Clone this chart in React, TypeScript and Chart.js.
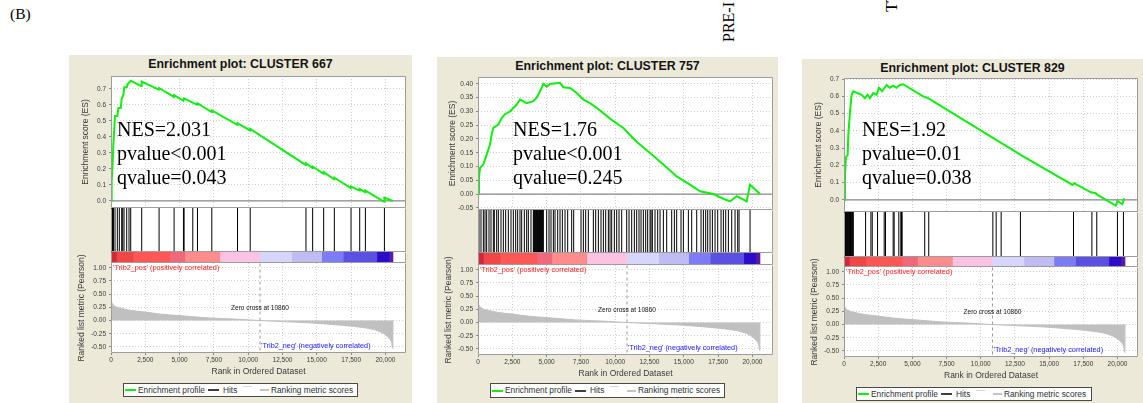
import React, { useEffect, useRef } from 'react';
import { Chart, registerables } from 'chart.js';

Chart.register(...registerables);

// ---------------- data ----------------
const X_MAX = 21500;
const X_TICKS = [0, 2500, 5000, 7500, 10000, 12500, 15000, 17500, 20000];
const X_TICK_LABELS = ['0', '2,500', '5,000', '7,500', '10,000', '12,500', '15,000', '17,500', '20,000'];

const METRIC_TICKS = [-0.5, -0.25, 0, 0.25, 0.5, 0.75, 1];
const METRIC_TICK_LABELS = ['-0.50', '-0.25', '0.00', '0.25', '0.50', '0.75', '1.00'];

const ES_TICKS_TENTHS = [0, 0.1, 0.2, 0.3, 0.4, 0.5, 0.6, 0.7];
const ES_TICK_LABELS_TENTHS = ['0.0', '0.1', '0.2', '0.3', '0.4', '0.5', '0.6', '0.7'];
const ES_TICKS_757 = [-0.05, 0, 0.05, 0.1, 0.15, 0.2, 0.25, 0.3, 0.35, 0.4];
const ES_TICK_LABELS_757 = ['-0.05', '0.00', '0.05', '0.10', '0.15', '0.20', '0.25', '0.30', '0.35', '0.40'];

const ZERO_CROSS = 10860;
const METRIC_RANKS = [0, 30, 100, 290, 780, 1510, 2480, 3700, 5160, 7100, 9050, 10860, 12940, 14890, 16840, 18300, 19270, 19880, 20240, 20440, 20540, 20550];
const METRIC_VALUES = [0.41, 0.36, 0.32, 0.27, 0.23, 0.19, 0.16, 0.12, 0.09, 0.05, 0.027, 0, -0.025, -0.05, -0.09, -0.13, -0.18, -0.25, -0.33, -0.41, -0.53, 0];

const COLOR_EDGES = [0, 390, 1600, 4280, 5380, 7930, 10850, 13160, 15350, 16930, 19370, 20250, 20550];
const COLOR_FILLS = ['#d4283a', '#f04646', '#ff5656', '#f0687c', '#ff8c8c', '#fcc2e2', '#d6d6fa', '#bfbcf4', '#7c7cf6', '#5a50e2', '#2c0cc8', '#5a1aa8'];

const TITLE_667 = 'Enrichment plot: CLUSTER 667';
const TITLE_757 = 'Enrichment plot: CLUSTER 757';
const TITLE_829 = 'Enrichment plot: CLUSTER 829';

const STATS_667 = ['NES=2.031', 'pvalue<0.001', 'qvalue=0.043'];
const STATS_757 = ['NES=1.76', 'pvalue<0.001', 'qvalue=0.245'];
const STATS_829 = ['NES=1.92', 'pvalue=0.01', 'qvalue=0.038'];

const ES_RANKS_667 = [0, 49, 122, 170, 292, 462, 540, 710, 779, 900, 970, 1144, 1220, 1436, 2200, 2238, 3480, 3504, 4580, 4599, 5280, 5328, 6280, 6302, 7330, 7348, 9200, 9221, 10130, 10146, 14190, 14209, 14680, 14696, 15480, 15499, 16260, 16277, 17480, 17494, 18110, 18126, 18520, 18540, 19910, 19927, 20550];
const ES_VALUES_667 = [0, 0.12, 0.24, 0.35, 0.53, 0.53, 0.58, 0.58, 0.64, 0.66, 0.71, 0.71, 0.73, 0.75, 0.717, 0.745, 0.695, 0.705, 0.65, 0.66, 0.625, 0.64, 0.6, 0.61, 0.555, 0.565, 0.475, 0.485, 0.44, 0.45, 0.225, 0.235, 0.205, 0.215, 0.17, 0.18, 0.135, 0.145, 0.08, 0.09, 0.065, 0.075, 0.055, 0.065, -0.005, 0.02, 0];
const HITS_667 = [0, 25, 49, 75, 100, 122, 150, 170, 292, 462, 608, 779, 852, 949, 1144, 1314, 1436, 2238, 3504, 4599, 5280, 5328, 5961, 6302, 7348, 9221, 10146, 14209, 14696, 15499, 16277, 17494, 18126, 18540, 19927];

const ES_RANKS_757 = [0, 71, 145, 389, 632, 874, 996, 1118, 1482, 1725, 1968, 2332, 2819, 3061, 3547, 4033, 4276, 4520, 4762, 5005, 5248, 5977, 6220, 6706, 7192, 7677, 8164, 8649, 9622, 10593, 11565, 12537, 13509, 14480, 15452, 16181, 17153, 17882, 18368, 18853, 19218, 19582, 19826, 20554];
const ES_VALUES_757 = [0, 0.058, 0.095, 0.107, 0.143, 0.18, 0.216, 0.24, 0.252, 0.276, 0.29, 0.3, 0.325, 0.343, 0.33, 0.337, 0.35, 0.373, 0.4, 0.39, 0.4, 0.404, 0.388, 0.385, 0.367, 0.343, 0.33, 0.313, 0.274, 0.24, 0.19, 0.149, 0.107, 0.064, 0.034, 0.01, 0, -0.017, -0.027, -0.008, -0.017, -0.027, 0.034, 0];
const HITS_757 = [73, 218, 389, 510, 631, 802, 947, 1118, 1190, 1361, 1482, 1676, 1846, 2016, 2211, 2406, 2575, 2746, 2891, 3061, 3183, 3377, 3547, 3669, 3863,
  4033, 4070, 4100, 4135, 4170, 4210, 4245, 4280, 4320, 4355, 4390, 4430, 4465, 4500, 4540, 4575, 4610, 4650, 4685, 4720, 4762,
  5005, 5176, 5321, 5492, 5613, 5808, 5977, 6147, 6342, 6536, 6827, 6974, 7508, 7678, 7848, 8043, 8407, 8577, 8772, 8965, 9136, 9306, 9500, 9622, 9744, 9938, 10108, 10278, 10473,
  10837, 11007, 11201, 11395, 11566, 11735, 11882, 12051, 12222, 12367, 12538, 12611, 12708, 12902, 13096, 13267, 13510, 13752, 14117, 14312, 14481, 14797, 14968, 15332, 15576,
  15940, 16255, 16426, 16595, 16742, 16911, 17082, 17276, 17470, 17714, 17883, 18054, 18248, 18491, 18734, 18928, 19026, 19828];

const ES_RANKS_829 = [0, 73, 145, 267, 316, 437, 559, 680, 1287, 1530, 1725, 1895, 2138, 2381, 2551, 2794, 3110, 3352, 3595, 3838, 4081, 4324, 5783, 6026, 6148, 12950, 16716, 16837, 18052, 18416, 18538, 19874, 19996, 20360, 20481];
const ES_VALUES_829 = [0, 0.145, 0.25, 0.26, 0.377, 0.51, 0.61, 0.63, 0.61, 0.59, 0.61, 0.59, 0.62, 0.61, 0.65, 0.63, 0.667, 0.65, 0.663, 0.65, 0.667, 0.671, 0.6, 0.594, 0.59, 0.26, 0.087, 0.097, 0.044, 0.039, 0.029, -0.033, -0.006, -0.025, 0.01];
const HITS_829 = [0, 40, 73, 112, 145, 193, 234, 267, 316, 356, 397, 437, 478, 519, 559, 600, 641, 680, 1579, 1968, 2065, 2453, 2940, 3037, 3595, 3669, 4009, 4155, 4203, 4252, 5904, 6197, 10885, 11128, 11492, 12901, 16783, 18128, 18485, 19996, 20434];

const LEGEND_LABELS = ['Enrichment profile', 'Hits', 'Ranking metric scores'];
const POS_LABEL = "'Trib2_pos' (positively correlated)";
const NEG_LABEL = "'Trib2_neg' (negatively correlated)";
const ZERO_LABEL = 'Zero cross at 10860';
const ES_AXIS_TITLE = 'Enrichment score (ES)';
const METRIC_AXIS_TITLE = 'Ranked list metric (Pearson)';
const X_AXIS_TITLE = 'Rank in Ordered Dataset';

// ---------------- styling ----------------
const FONT = '"Liberation Sans", Arial, Helvetica, sans-serif';
const SERIF = '"Liberation Serif", "Times New Roman", serif';
const AXIS_W = 42;
const GRID = '#d0d0d0';
const TICK_TEXT = '#3a3a3a';
const BEIGE = '#ece9d8';
const GREEN = '#10ee10';

const framePlugin = {
  id: 'frame',
  beforeDraw(chart: any) {
    const { ctx, chartArea: a } = chart;
    ctx.save();
    ctx.fillStyle = '#ffffff';
    ctx.fillRect(a.left, a.top, a.right - a.left, a.bottom - a.top);
    ctx.restore();
  },
  afterDraw(chart: any, _a: any, opts: any) {
    const { ctx, chartArea: a } = chart;
    const sides: string = (opts && opts.sides) || 'trbl';
    const l = Math.round(a.left) + 0.5;
    const r = Math.round(a.right) - 0.5;
    const t = Math.round(a.top) + 0.5;
    const b = Math.round(a.bottom) - 0.5;
    ctx.save();
    ctx.strokeStyle = (opts && opts.color) || '#999';
    ctx.lineWidth = 1;
    ctx.setLineDash([]);
    ctx.beginPath();
    if (sides.includes('t')) { ctx.moveTo(l, t); ctx.lineTo(r, t); }
    if (sides.includes('r')) { ctx.moveTo(r, t); ctx.lineTo(r, b); }
    if (sides.includes('b')) { ctx.moveTo(l, b); ctx.lineTo(r, b); }
    if (sides.includes('l')) { ctx.moveTo(l, t); ctx.lineTo(l, b); }
    ctx.stroke();
    ctx.restore();
  },
};

const metricLabelsPlugin = {
  id: 'metricLabels',
  afterDatasetsDraw(chart: any) {
    const { ctx, chartArea, scales } = chart;
    const x = scales.x;
    const y = scales.y;
    ctx.save();
    ctx.textBaseline = 'middle';
    ctx.font = '7.3px ' + FONT;
    ctx.fillStyle = '#ff2020';
    ctx.textAlign = 'left';
    ctx.fillText(POS_LABEL, chartArea.left + 2, y.getPixelForValue(1.0));
    ctx.fillStyle = '#2020ff';
    ctx.fillText(NEG_LABEL, x.getPixelForValue(ZERO_CROSS) + 1, y.getPixelForValue(-0.49));
    ctx.font = '6.5px ' + FONT;
    ctx.fillStyle = '#111111';
    ctx.textAlign = 'center';
    ctx.fillText(ZERO_LABEL, x.getPixelForValue(ZERO_CROSS), y.getPixelForValue(0.23));
    ctx.restore();
  },
};

function fixedTicks(values: number[]) {
  return (s: any) => { s.ticks = values.map((v) => ({ value: v })); };
}
function fixWidth(w: number) {
  return (s: any) => { s.width = w; s.paddingTop = 0; s.paddingBottom = 0; s.paddingLeft = 0; s.paddingRight = 0; };
}
function fixHeight(h: number) {
  return (s: any) => { s.height = h; s.paddingTop = 0; s.paddingBottom = 0; s.paddingLeft = 0; s.paddingRight = 0; };
}

const baseOptions = {
  animation: false,
  responsive: false,
  maintainAspectRatio: false,
  events: [],
  devicePixelRatio: 1,
};

const ES_PAD = 6;

function esConfig(p: any) {
  const pts = p.esRanks.map((r: number, i: number) => ({ x: r, y: p.esValues[i] }));
  return {
    type: 'line',
    data: {
      datasets: [
        { data: pts, borderColor: GREEN, borderWidth: 2, pointRadius: 0, tension: 0, fill: false },
        { data: [{ x: 0, y: 0 }, { x: X_MAX, y: 0 }], borderColor: '#8a8a8a', borderWidth: 1.2, pointRadius: 0, fill: false },
      ],
    },
    options: {
      ...baseOptions,
      layout: { padding: { right: 1, top: ES_PAD, bottom: ES_PAD, left: 0 }, autoPadding: false },
      plugins: { legend: { display: false }, tooltip: { enabled: false }, frame: { color: '#9c9c9c', sides: 'trbl' } },
      scales: {
        x: {
          type: 'linear', min: 0, max: X_MAX,
          afterBuildTicks: fixedTicks(X_TICKS),
          afterFit: fixHeight(0),
          ticks: { display: false },
          grid: { color: GRID, drawTicks: false },
          border: { display: false, dash: [1, 2] },
        },
        y: {
          type: 'linear', min: p.esMin, max: p.esMax,
          afterBuildTicks: fixedTicks(p.esTicks),
          afterFit: fixWidth(AXIS_W),
          ticks: { font: { family: FONT, size: 6.5 }, color: TICK_TEXT, padding: 3, callback: (_v: any, i: number) => p.esTickLabels[i] },
          grid: { color: GRID, tickColor: '#888888', tickLength: 2 },
          border: { display: false, dash: [1, 2] },
          title: { display: true, text: ES_AXIS_TITLE, font: { family: FONT, size: 8.5 }, color: TICK_TEXT, padding: { top: 12, bottom: 0 } },
        },
      },
    },
    plugins: [framePlugin],
  };
}

function hitsConfig(p: any) {
  const pts: any[] = [];
  p.hits.forEach((r: number) => {
    pts.push({ x: r, y: 0 });
    pts.push({ x: r, y: 1 });
    pts.push({ x: r, y: null });
  });
  return {
    type: 'line',
    data: { datasets: [{ data: pts, borderColor: '#000000', borderWidth: 1, pointRadius: 0, spanGaps: false, fill: false }] },
    options: {
      ...baseOptions,
      layout: { padding: { right: 1, top: 0, bottom: 0, left: 0 }, autoPadding: false },
      plugins: { legend: { display: false }, tooltip: { enabled: false }, frame: { color: '#9c9c9c', sides: 'rbl' } },
      scales: {
        x: { type: 'linear', min: 0, max: X_MAX, display: false },
        y: { type: 'linear', min: 0, max: 1, display: false },
      },
    },
    plugins: [framePlugin],
  };
}

function colorBarConfig() {
  return {
    type: 'bar',
    data: {
      labels: ['rank'],
      datasets: COLOR_FILLS.map((c, i) => ({
        data: [[COLOR_EDGES[i], COLOR_EDGES[i + 1]]],
        backgroundColor: c,
        borderWidth: 0,
        barPercentage: 1,
        categoryPercentage: 1,
        grouped: false,
      })),
    },
    options: {
      ...baseOptions,
      indexAxis: 'y',
      layout: { padding: { right: 1, top: 0, bottom: 0, left: 0 }, autoPadding: false },
      plugins: { legend: { display: false }, tooltip: { enabled: false }, frame: { color: '#9c9c9c', sides: 'rbl' } },
      scales: {
        x: { type: 'linear', min: 0, max: X_MAX, display: false },
        y: { type: 'category', display: false },
      },
    },
    plugins: [framePlugin],
  };
}

const METRIC_PAD_TOP = 20;
const X_AXIS_H = 24;

function metricConfig() {
  const pts = METRIC_RANKS.map((r, i) => ({ x: r, y: METRIC_VALUES[i] }));
  return {
    type: 'line',
    data: {
      datasets: [
        { data: [{ x: ZERO_CROSS, y: -5 }, { x: ZERO_CROSS, y: 5 }], borderColor: '#9a9a9a', borderDash: [3, 3], borderWidth: 1, pointRadius: 0, fill: false },
        { data: pts, borderColor: '#c0c0c0', backgroundColor: '#c0c0c0', borderWidth: 1, pointRadius: 0, fill: 'origin', cubicInterpolationMode: 'monotone' },
      ],
    },
    options: {
      ...baseOptions,
      layout: { padding: { right: 1, top: METRIC_PAD_TOP, bottom: 0, left: 0 }, autoPadding: false },
      plugins: { legend: { display: false }, tooltip: { enabled: false }, frame: { color: '#9c9c9c', sides: 'rbl' } },
      scales: {
        x: {
          type: 'linear', min: 0, max: X_MAX,
          afterBuildTicks: fixedTicks(X_TICKS),
          afterFit: fixHeight(X_AXIS_H),
          ticks: { font: { family: FONT, size: 6.5 }, color: TICK_TEXT, padding: 1, maxRotation: 0, autoSkip: false, callback: (_v: any, i: number) => X_TICK_LABELS[i] },
          grid: { color: GRID, tickColor: '#888888', tickLength: 2 },
          border: { display: false, dash: [1, 2] },
          title: { display: true, text: X_AXIS_TITLE, font: { family: FONT, size: 8.5 }, color: TICK_TEXT, padding: { top: 0, bottom: 0 } },
        },
        y: {
          type: 'linear', min: -0.615, max: 1.09,
          afterBuildTicks: fixedTicks(METRIC_TICKS),
          afterFit: fixWidth(AXIS_W),
          ticks: { font: { family: FONT, size: 6.5 }, color: TICK_TEXT, padding: 3, callback: (_v: any, i: number) => METRIC_TICK_LABELS[i] },
          grid: { color: GRID, tickColor: '#888888', tickLength: 2 },
          border: { display: false, dash: [1, 2] },
          title: { display: true, text: METRIC_AXIS_TITLE, font: { family: FONT, size: 8.5 }, color: TICK_TEXT, padding: { top: 8, bottom: 0 } },
        },
      },
    },
    plugins: [framePlugin, metricLabelsPlugin],
  };
}

function ChartCanvas({ left, top, width, height, build }: any) {
  const ref = useRef<HTMLCanvasElement | null>(null);
  useEffect(() => {
    const chart = new Chart(ref.current as HTMLCanvasElement, build() as any);
    return () => chart.destroy();
  }, []);
  return <canvas ref={ref} width={width} height={height} style={{ position: 'absolute', left, top, width, height, display: 'block' }} />;
}

function Legend({ x, y, w, h }: any) {
  const inner = h - 2;
  const lineTop = Math.round(inner / 2) - 1;
  const text: any = { position: 'absolute', top: 0, lineHeight: inner + 'px', whiteSpace: 'nowrap' };
  return (
    <div style={{ position: 'absolute', left: x, top: y, width: w, height: h, boxSizing: 'border-box', border: '1px solid #4a4a4a', background: '#ffffff', fontFamily: FONT, fontSize: 8.3, color: '#303030' }}>
      <span style={{ position: 'absolute', left: 1, top: lineTop, width: 11, height: 2, background: GREEN }} />
      <span style={{ ...text, left: 14 }}>{LEGEND_LABELS[0]}</span>
      <span style={{ position: 'absolute', left: 84, top: lineTop, width: 11, height: 1.5, background: '#404040' }} />
      <span style={{ ...text, left: 99 }}>{LEGEND_LABELS[1]}</span>
      <span style={{ position: 'absolute', left: 119, top: 2, width: 9, height: 1, background: '#d8d8d8' }} />
      <span style={{ position: 'absolute', left: 136, top: lineTop, width: 9, height: 1.5, background: '#c4c4c4' }} />
      <span style={{ ...text, left: 147 }}>{LEGEND_LABELS[2]}</span>
    </div>
  );
}

function Panel({ p, g }: any) {
  return (
    <>
      <div style={{ position: 'absolute', left: g.bx, top: g.by, width: g.bw, height: 403 - g.by, background: BEIGE }} />
      <div style={{ position: 'absolute', left: g.bx, top: g.titleY - 7, width: g.bw, height: 14, lineHeight: '14px', textAlign: 'center', fontFamily: FONT, fontWeight: 'bold', fontSize: 12.4, color: '#141414', whiteSpace: 'nowrap' }}>{p.title}</div>
      <ChartCanvas left={g.L - AXIS_W} top={g.esTop - ES_PAD} width={g.R - g.L + AXIS_W + 1} height={g.esBot - g.esTop + 2 * ES_PAD} build={() => esConfig(p)} />
      <ChartCanvas left={g.L - AXIS_W} top={g.cbBot - METRIC_PAD_TOP} width={g.R - g.L + AXIS_W + 1} height={METRIC_PAD_TOP + (g.mBot - g.cbBot) + X_AXIS_H} build={() => metricConfig()} />
      <ChartCanvas left={g.L} top={g.esBot} width={g.R - g.L + 1} height={g.hitsBot - g.esBot} build={() => hitsConfig(p)} />
      <ChartCanvas left={g.L} top={g.hitsBot} width={g.R - g.L + 1} height={g.cbBot - g.hitsBot} build={() => colorBarConfig()} />
      <div style={{ position: 'absolute', left: g.statsX, top: 117, fontFamily: SERIF, fontSize: 20, lineHeight: '24px', color: '#000', whiteSpace: 'nowrap' }}>
        {p.stats.map((s: string, i: number) => <div key={i}>{s}</div>)}
      </div>
      <Legend x={g.legend.x} y={g.legend.y} w={g.legend.w} h={g.legend.h} />
    </>
  );
}

const PANEL_DATA = [
  { title: TITLE_667, stats: STATS_667, esRanks: ES_RANKS_667, esValues: ES_VALUES_667, hits: HITS_667, esTicks: ES_TICKS_TENTHS, esTickLabels: ES_TICK_LABELS_TENTHS, esMin: -0.044, esMax: 0.78 },
  { title: TITLE_757, stats: STATS_757, esRanks: ES_RANKS_757, esValues: ES_VALUES_757, hits: HITS_757, esTicks: ES_TICKS_757, esTickLabels: ES_TICK_LABELS_757, esMin: -0.058, esMax: 0.425 },
  { title: TITLE_829, stats: STATS_829, esRanks: ES_RANKS_829, esValues: ES_VALUES_829, hits: HITS_829, esTicks: ES_TICKS_TENTHS, esTickLabels: ES_TICK_LABELS_TENTHS, esMin: -0.07, esMax: 0.707 },
];

const PANEL_LAYOUT = [
  { bx: 69, by: 55, bw: 343, titleY: 64, L: 111, R: 406, esTop: 76, esBot: 208, hitsBot: 252, cbBot: 263, mBot: 353, statsX: 117, legend: { x: 123, y: 383, w: 235, h: 14 } },
  { bx: 437, by: 57, bw: 341, titleY: 66, L: 478, R: 773, esTop: 77, esBot: 210, hitsBot: 253, cbBot: 265, mBot: 355, statsX: 513, legend: { x: 490, y: 383, w: 235, h: 15 } },
  { bx: 802, by: 59, bw: 341, titleY: 68, L: 844, R: 1138, esTop: 78, esBot: 212, hitsBot: 257, cbBot: 267, mBot: 357, statsX: 862, legend: { x: 856, y: 387, w: 236, h: 14 } },
];

function Rotated({ x, y, text, size }: any) {
  return (
    <span style={{ position: 'absolute', left: x, top: y, transform: 'rotate(-90deg)', transformOrigin: '0 0', fontFamily: SERIF, fontSize: size, lineHeight: size + 'px', whiteSpace: 'nowrap', color: '#000' }}>{text}</span>
  );
}

export default function App() {
  return (
    <div style={{ position: 'absolute', left: 0, top: 0, width: 1143, height: 403, overflow: 'hidden', background: '#ffffff' }}>
      <div style={{ position: 'absolute', left: 10, top: 5, fontFamily: SERIF, fontSize: 15.5, lineHeight: '18px', color: '#000' }}>(B)</div>
      <Rotated x={720.5} y={42} text="PRE-I" size={16} />
      <Rotated x={884} y={12} text="TT" size={16} />
      {PANEL_DATA.map((p, i) => <Panel key={i} p={p} g={PANEL_LAYOUT[i]} />)}
    </div>
  );
}
